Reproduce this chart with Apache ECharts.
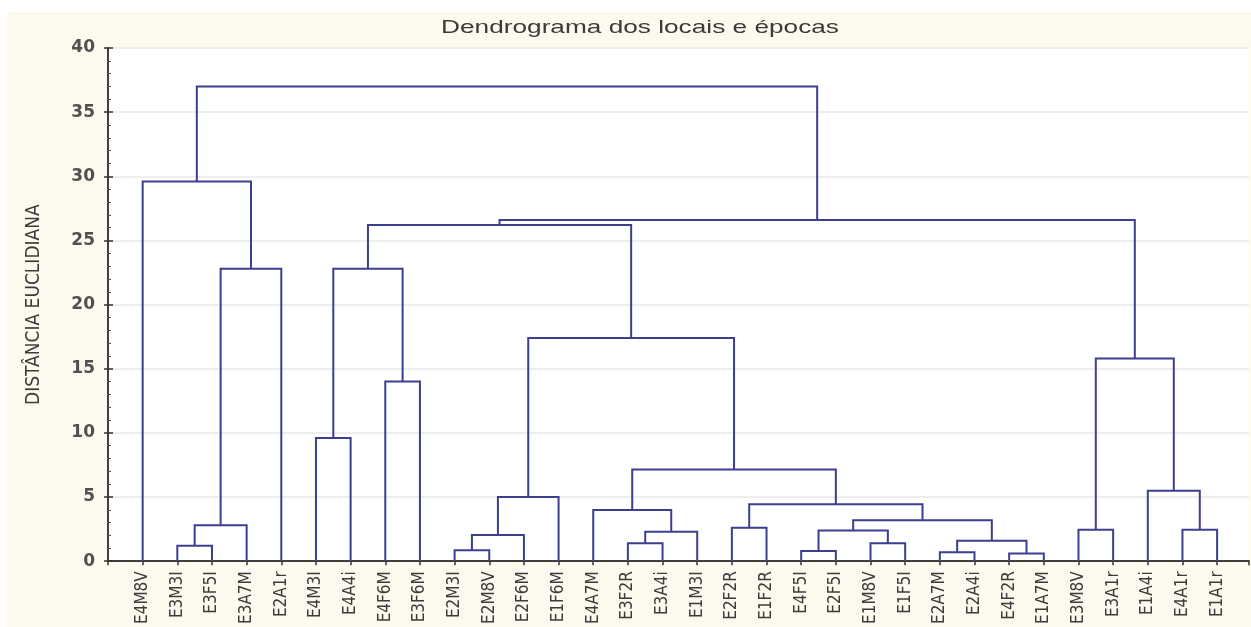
<!DOCTYPE html>
<html>
<head>
<meta charset="utf-8">
<script src="https://cdn.jsdelivr.net/npm/echarts@6/dist/echarts.min.js"></script>
<style>
  html, body { margin: 0; padding: 0; background: #fff; }
  #chart { position: absolute; left: 7px; top: 12px; width: 1244px; height: 615px; }
</style>
</head>
<body>
<div id="chart"></div>
<script>
// folhas na ordem do dendrograma
var leaves = ['E4M8V', 'E3M3I', 'E3F5I', 'E3A7M', 'E2A1r', 'E4M3I', 'E4A4i', 'E4F6M', 'E3F6M',
    'E2M3I', 'E2M8V', 'E2F6M', 'E1F6M', 'E4A7M', 'E3F2R', 'E3A4i', 'E1M3I', 'E2F2R', 'E1F2R',
    'E4F5I', 'E2F5I', 'E1M8V', 'E1F5I', 'E2A7M', 'E2A4i', 'E4F2R', 'E1A7M', 'E3M8V', 'E3A1r',
    'E1A4i', 'E4A1r', 'E1A1r'];
// fusoes: [filho A, filho B, distancia]; ids >= 32 sao fusoes anteriores (32 + indice)
var merges = [
    [1, 2, 1.2], [32, 3, 2.8], [33, 4, 22.8], [0, 34, 29.6],
    [5, 6, 9.6], [7, 8, 14.0], [36, 37, 22.8],
    [9, 10, 0.85], [39, 11, 2.05], [40, 12, 5.0],
    [14, 15, 1.4], [42, 16, 2.3], [13, 43, 4.0],
    [17, 18, 2.6], [19, 20, 0.8], [21, 22, 1.4], [46, 47, 2.4],
    [23, 24, 0.7], [25, 26, 0.6], [49, 50, 1.6], [48, 51, 3.2],
    [45, 52, 4.45], [44, 53, 7.15], [41, 54, 17.4], [38, 55, 26.2],
    [27, 28, 2.45], [30, 31, 2.45], [29, 58, 5.5], [57, 59, 15.8],
    [56, 60, 26.6], [35, 61, 37.0]
];
var yTicks = [0, 5, 10, 15, 20, 25, 30, 35, 40];

var nLeaf = leaves.length;
var posX = [], posY = [];
leaves.forEach(function (name, i) {
    posX[i] = i + 1;
    posY[i] = 0;
});
var linkData = [];
merges.forEach(function (m, k) {
    var a = m[0], b = m[1], h = m[2];
    posX[nLeaf + k] = (posX[a] + posX[b]) / 2;
    posY[nLeaf + k] = h;
    linkData.push([posX[a], posY[a], posX[b], posY[b], h]);
});

var chart = echarts.init(document.getElementById('chart'));
var axisColor = '#333';
var option = {
    backgroundColor: '#fcf9ef',
    animation: false,
    grid: {
        left: 101, right: 2, top: 36, bottom: 65,
        show: true, backgroundColor: '#ffffff', borderWidth: 0
    },
    graphic: [{
        type: 'text',
        x: 633, y: 16,
        scaleX: 1.38,
        style: {
            text: 'Dendrograma dos locais e épocas',
            font: '19px "Liberation Sans", Arial, sans-serif',
            fill: '#3a3a3a',
            align: 'center',
            verticalAlign: 'middle'
        }
    }],
    xAxis: [{
        type: 'value', min: 0, max: 32.92, interval: 1,
        axisLine: { lineStyle: { color: axisColor, width: 1.5 } },
        axisTick: { show: false },
        splitLine: { show: false },
        axisLabel: {
            rotate: 90, margin: 10, color: '#3c3c3c',
            fontFamily: '"DejaVu Sans Condensed", sans-serif',
            fontSize: 17,
            formatter: function (v) {
                return (v >= 1 && v <= nLeaf && v % 1 === 0) ? leaves[v - 1] : '';
            }
        }
    }, {
        type: 'value', position: 'top', min: 0, max: 32.92, interval: 1,
        axisLine: { lineStyle: { color: axisColor, width: 1.5 } },
        axisTick: { inside: true, length: 4, lineStyle: { color: axisColor, width: 1.5 } },
        axisLabel: { show: false },
        splitLine: { show: false }
    }],
    yAxis: [{
        type: 'value', min: yTicks[0], max: yTicks[yTicks.length - 1], interval: 5,
        name: 'DISTÂNCIA EUCLIDIANA',
        nameLocation: 'middle', nameGap: 64, nameRotate: 90,
        nameTextStyle: {
            fontFamily: '"DejaVu Sans Condensed", sans-serif',
            fontSize: 19, color: '#3c3c3c'
        },
        axisLine: { show: true, lineStyle: { color: axisColor, width: 1.5 } },
        axisTick: { inside: true, length: 5, lineStyle: { color: axisColor, width: 1.5 } },
        minorTick: { show: true, splitNumber: 5, length: 3, lineStyle: { color: '#555' } },
        axisLabel: {
            margin: 13, color: '#505050', fontSize: 17, fontWeight: 'bold',
            fontFamily: '"DejaVu Sans", sans-serif'
        },
        splitLine: { show: true, lineStyle: { color: '#e8e8e8', width: 1.5 } }
    }, {
        type: 'value', position: 'right', min: yTicks[0], max: yTicks[yTicks.length - 1], interval: 5,
        axisLine: { show: true, lineStyle: { color: axisColor, width: 1.5 } },
        axisTick: { inside: true, length: 4, lineStyle: { color: axisColor, width: 1.5 } },
        axisLabel: { show: false },
        splitLine: { show: false }
    }],
    series: [{
        type: 'custom',
        coordinateSystem: 'cartesian2d',
        encode: { x: [0, 2], y: [1, 4] },
        data: linkData,
        renderItem: function (params, api) {
            var p1 = api.coord([api.value(0), api.value(1)]);
            var p2 = api.coord([api.value(0), api.value(4)]);
            var p3 = api.coord([api.value(2), api.value(4)]);
            var p4 = api.coord([api.value(2), api.value(3)]);
            return {
                type: 'polyline',
                shape: { points: [p1, p2, p3, p4] },
                style: { stroke: '#3c3f8f', lineWidth: 2, fill: null }
            };
        }
    }]
};
chart.setOption(option);
</script>
</body>
</html>
